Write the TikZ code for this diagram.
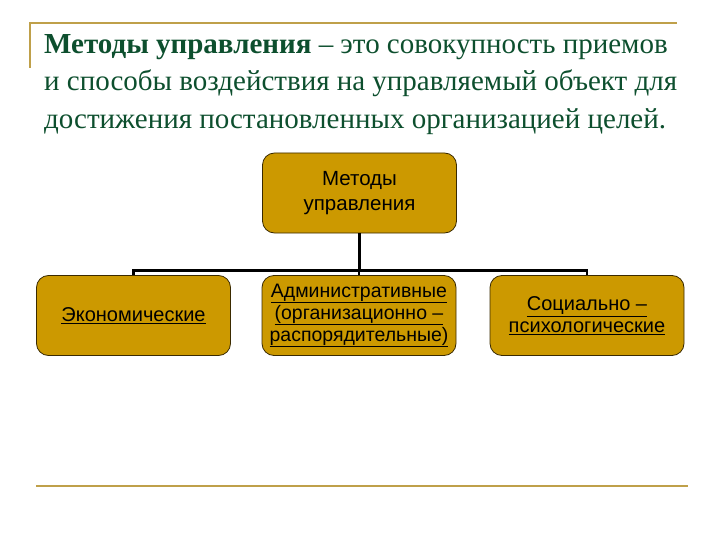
\documentclass[tikz,border=0pt]{standalone}
\usepackage{fontspec}
\setmainfont{Liberation Serif}
\newfontfamily\boxfont{Liberation Sans}
\usetikzlibrary{positioning}
\definecolor{titlegreen}{HTML}{0D4F2E}
\definecolor{rulegold}{HTML}{BFA04A}
\definecolor{boxgold}{HTML}{CC9900}
\definecolor{boxedge}{HTML}{3A2A00}
\newcommand{\ul}[1]{\underline{#1}}

\begin{document}
\begin{tikzpicture}[
  x=1pt, y=-1pt,
  method/.style={draw=boxedge, line width=0.8pt, fill=boxgold, rounded corners=12pt,
    minimum width=194pt, minimum height=80pt, align=center, inner sep=2pt,
    font=\boxfont\fontsize{20}{22}\selectfont, text=black},
  link/.style={black, line width=2.2pt},
]
\useasboundingbox (0,0) rectangle (720,540);

% Slide frame rules
\draw[rulegold, line width=2pt] (30,68) -- (30,23) -- (677,23);
\draw[rulegold, line width=2.5pt] (36,486) -- (688,486);

% Definition text
\node[anchor=north west, inner sep=0pt, align=left, text=titlegreen,
  font=\fontsize{29}{37.5}\selectfont] (defn) at (44,34)
  {\textbf{Методы управления} – это совокупность приемов\\
   и способы воздействия на управляемый объект для\\
   достижения постановленных организацией целей.};

% Boxes
\node[method, font=\boxfont\fontsize{20.5}{25}\selectfont] (meth) at (359.5,193) {Методы\\управления};
\node[method] (econ) at (133.5,315.5) {\ul{Экономические}};
\node[method, font=\boxfont\fontsize{19.5}{22}\selectfont] (admin) at (359,315.5) {\ul{Административные}\\\ul{(организационно –}\\\ul{распорядительные)}};
\node[method] (soc) at (587,315.5) {\ul{Социально –}\\\ul{психологические}};

% Tree connectors
\draw[link] (meth.south) -- ++(0,37) coordinate (bus);
\draw[link] (econ.north) |- (bus) -| (soc.north);
\draw[link] (admin.north) -- (admin.north |- bus);

\end{tikzpicture}
\end{document}
